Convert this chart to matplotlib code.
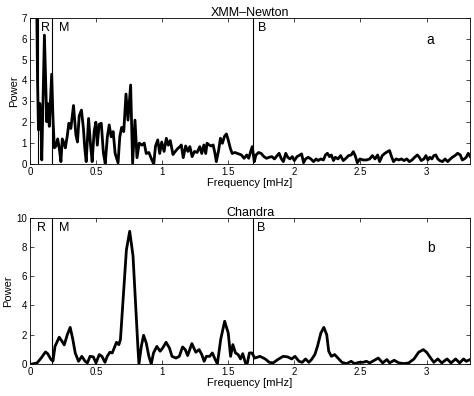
import matplotlib
matplotlib.use("Agg")
import matplotlib.pyplot as plt

plt.rcParams["font.family"] = ["Liberation Sans", "DejaVu Sans"]

# XMM-Newton power spectrum
xmm_freq = [
    0.052, 0.058, 0.065, 0.075, 0.083, 0.090, 0.110, 0.128, 0.135, 0.147,
    0.165, 0.175, 0.185, 0.197, 0.210, 0.222, 0.235, 0.245, 0.255, 0.268,
    0.282, 0.295, 0.310, 0.330, 0.348, 0.360, 0.373, 0.390, 0.405, 0.415,
    0.426, 0.444, 0.459, 0.471, 0.486, 0.499, 0.510, 0.524, 0.540, 0.556,
    0.570, 0.586, 0.600, 0.615, 0.630, 0.645, 0.667, 0.680, 0.694, 0.710,
    0.727, 0.742, 0.762, 0.777, 0.795, 0.810, 0.827, 0.847, 0.865, 0.880,
    0.900, 0.922, 0.937, 0.950, 0.967, 0.982, 0.997, 1.015, 1.032, 1.047,
    1.062, 1.082, 1.100, 1.120, 1.135, 1.145, 1.160, 1.178, 1.195, 1.210,
    1.227, 1.245, 1.265, 1.285, 1.300, 1.316, 1.330, 1.340, 1.356, 1.370,
    1.386, 1.400, 1.410, 1.428, 1.441, 1.456, 1.471, 1.486, 1.500, 1.516,
    1.530, 1.550, 1.580, 1.600, 1.620, 1.640, 1.655, 1.670, 1.682, 1.697,
    1.710, 1.730, 1.750, 1.770, 1.790, 1.810, 1.830, 1.850, 1.870, 1.885,
    1.900, 1.917, 1.935, 1.950, 1.967, 1.985, 2.000, 2.020, 2.035, 2.055,
    2.070, 2.085, 2.105, 2.125, 2.145, 2.165, 2.180, 2.200, 2.220, 2.235,
    2.250, 2.266, 2.280, 2.296, 2.310, 2.330, 2.350, 2.370, 2.390, 2.410,
    2.430, 2.446, 2.460, 2.476, 2.496, 2.520, 2.545, 2.570, 2.590, 2.610,
    2.630, 2.645, 2.665, 2.685, 2.705, 2.720, 2.735, 2.750, 2.770, 2.790,
    2.810, 2.830, 2.850, 2.870, 2.890, 2.910, 2.930, 2.945, 2.960, 2.980,
    2.995, 3.010, 3.025, 3.040, 3.055, 3.070, 3.085, 3.100, 3.120, 3.140,
    3.160, 3.180, 3.195, 3.215, 3.235, 3.255, 3.270, 3.285, 3.300, 3.315,
    3.330,
]
xmm_power = [
    7.60, 4.00, 1.63, 2.90, 2.30, 0.19, 6.17, 2.02, 2.90, 1.80,
    4.30, 2.15, 0.77, 0.85, 1.20, 0.77, 0.11, 1.20, 1.05, 0.77,
    1.30, 1.95, 1.70, 2.80, 1.40, 1.05, 2.30, 2.58, 1.70, 0.77,
    0.11, 2.18, 0.90, 0.11, 1.55, 2.00, 0.90, 1.90, 1.95, 0.53,
    0.02, 1.30, 1.87, 1.30, 1.55, 0.50, 0.05, 1.30, 1.75, 1.55,
    3.35, 2.10, 3.78, 0.03, 2.10, 0.30, 1.00, 0.90, 1.00, 0.50,
    0.55, 0.20, 0.00, 0.85, 1.15, 0.50, 1.05, 0.60, 1.23, 0.90,
    1.12, 0.45, 0.60, 0.75, 0.83, 0.91, 0.30, 0.86, 0.60, 0.83,
    0.35, 0.60, 0.55, 0.83, 0.50, 0.91, 0.50, 0.99, 0.91, 0.86,
    0.91, 0.50, 0.11, 0.67, 1.23, 0.99, 1.31, 1.44, 1.15, 0.75,
    0.50, 0.55, 0.48, 0.43, 0.27, 0.43, 0.27, 0.60, 0.83, 0.11,
    0.43, 0.55, 0.50, 0.35, 0.27, 0.32, 0.35, 0.24, 0.40, 0.51,
    0.27, 0.11, 0.51, 0.32, 0.24, 0.35, 0.16, 0.35, 0.40, 0.48,
    0.06, 0.24, 0.32, 0.24, 0.11, 0.24, 0.16, 0.24, 0.19, 0.43,
    0.51, 0.35, 0.43, 0.16, 0.32, 0.24, 0.40, 0.16, 0.27, 0.40,
    0.43, 0.59, 0.40, 0.06, 0.24, 0.19, 0.19, 0.24, 0.40, 0.24,
    0.43, 0.11, 0.40, 0.51, 0.59, 0.64, 0.35, 0.11, 0.24, 0.19,
    0.24, 0.16, 0.24, 0.11, 0.19, 0.32, 0.43, 0.32, 0.16, 0.24,
    0.40, 0.19, 0.32, 0.24, 0.40, 0.43, 0.24, 0.16, 0.11, 0.24,
    0.11, 0.24, 0.32, 0.40, 0.51, 0.43, 0.19, 0.24, 0.32, 0.51,
    0.35,
]

# Chandra power spectrum
chandra_freq = [
    0.020, 0.055, 0.085, 0.118, 0.135, 0.160, 0.175, 0.190, 0.222, 0.243,
    0.260, 0.283, 0.305, 0.325, 0.343, 0.368, 0.393, 0.418, 0.435, 0.455,
    0.480, 0.500, 0.525, 0.545, 0.568, 0.585, 0.605, 0.623, 0.643, 0.655,
    0.673, 0.685, 0.705, 0.730, 0.755, 0.780, 0.800, 0.818, 0.825, 0.843,
    0.860, 0.880, 0.900, 0.918, 0.935, 0.960, 0.985, 1.005, 1.030, 1.055,
    1.075, 1.105, 1.130, 1.155, 1.175, 1.193, 1.225, 1.255, 1.280, 1.300,
    1.318, 1.335, 1.360, 1.380, 1.400, 1.418, 1.443, 1.473, 1.500, 1.518,
    1.535, 1.555, 1.575, 1.593, 1.610, 1.630, 1.645, 1.660, 1.680, 1.700,
    1.740, 1.780, 1.810, 1.840, 1.875, 1.915, 1.950, 1.980, 2.005, 2.035,
    2.060, 2.085, 2.110, 2.130, 2.155, 2.175, 2.200, 2.223, 2.245, 2.260,
    2.280, 2.305, 2.330, 2.360, 2.395, 2.430, 2.455, 2.490, 2.520, 2.545,
    2.570, 2.605, 2.635, 2.668, 2.700, 2.720, 2.755, 2.790, 2.830, 2.865,
    2.905, 2.940, 2.975, 3.000, 3.025, 3.055, 3.085, 3.115, 3.155, 3.185,
    3.220, 3.250, 3.280, 3.300, 3.330,
]
chandra_power = [
    0.00, 0.07, 0.40, 0.82, 0.70, 0.30, 0.20, 1.20, 1.83, 1.55,
    1.30, 2.00, 2.50, 1.67, 0.75, 0.18, 0.52, 0.18, 0.07, 0.52,
    0.48, 0.07, 0.64, 0.52, 0.11, 0.52, 0.80, 0.75, 1.20, 1.48,
    1.32, 1.67, 4.40, 7.80, 9.08, 7.40, 3.95, 0.98, 0.00, 1.20,
    1.96, 1.44, 0.52, 0.00, 0.75, 1.20, 0.87, 1.10, 1.48, 1.10,
    0.52, 0.40, 0.52, 1.16, 0.98, 0.57, 1.39, 0.80, 0.98, 0.64,
    0.18, 0.52, 0.52, 0.75, 0.34, 0.00, 1.67, 2.92, 2.12, 0.52,
    1.32, 0.75, 0.64, 0.34, 0.70, 0.07, 0.07, 0.75, 0.75, 0.40,
    0.52, 0.34, 0.11, 0.07, 0.30, 0.52, 0.48, 0.34, 0.52, 0.18,
    0.11, 0.34, 0.11, 0.30, 0.64, 1.20, 2.10, 2.50, 2.00, 0.87,
    0.52, 0.64, 0.40, 0.11, 0.02, 0.18, 0.02, 0.11, 0.11, 0.18,
    0.07, 0.25, 0.40, 0.07, 0.30, 0.07, 0.25, 0.07, 0.02, 0.07,
    0.34, 0.80, 0.98, 0.80, 0.48, 0.11, 0.34, 0.07, 0.34, 0.07,
    0.34, 0.07, 0.34, 0.18, 0.30,
]

x_ticks = [0, 0.5, 1, 1.5, 2, 2.5, 3]
x_tick_labels = ["0", "0.5", "1", "1.5", "2", "2.5", "3"]

xmm_bounds = [0.058, 0.17, 1.69]
chandra_bounds = [0.17, 1.69]
region_labels = ["R", "M", "B"]
xmm_label_freq = [0.118, 0.26, 1.76]
chandra_label_freq = [0.09, 0.26, 1.75]


def draw_panel(ax, freq, power, bounds, label_freq, y_max, y_step,
               title, letter, letter_y):
    ax.plot(
        freq,
        power,
        color="black",
        linewidth=2.0,
        solid_joinstyle="round",
    )

    for b in bounds:
        ax.axvline(
            b,
            color="black",
            linewidth=0.8,
        )

    ax.set_xlim(0, 3.33)
    ax.set_ylim(0, y_max)

    ax.set_xticks(x_ticks)
    ax.set_xticklabels(x_tick_labels)
    ax.set_yticks(range(0, y_max + 1, y_step))

    ax.tick_params(
        direction="in",
        top=True,
        right=True,
        labelsize=7,
        length=3,
        width=0.5,
        pad=2,
    )

    for spine in ax.spines.values():
        spine.set_linewidth(0.6)

    ax.set_xlabel("Frequency [mHz]", fontsize=8, labelpad=1)
    ax.set_ylabel("Power", fontsize=8, labelpad=2)
    ax.set_title(title, fontsize=9, pad=1)

    for name, f in zip(region_labels, label_freq):
        ax.text(
            f,
            0.97 * y_max,
            name,
            fontsize=9,
            ha="center",
            va="top",
        )

    ax.text(
        0.91,
        letter_y,
        letter,
        transform=ax.transAxes,
        fontsize=10,
        ha="center",
        va="center",
    )


fig = plt.figure(figsize=(4.74, 3.96), dpi=100)

ax_top = fig.add_axes([0.063, 0.586, 0.929, 0.369])
ax_bottom = fig.add_axes([0.063, 0.081, 0.929, 0.369])

draw_panel(ax_top, xmm_freq, xmm_power, xmm_bounds, xmm_label_freq,
           7, 1, "XMM\u2013Newton", "a", 0.85)
draw_panel(ax_bottom, chandra_freq, chandra_power, chandra_bounds,
           chandra_label_freq, 10, 2, "Chandra", "b", 0.79)

fig.savefig("out.png", dpi=100)
